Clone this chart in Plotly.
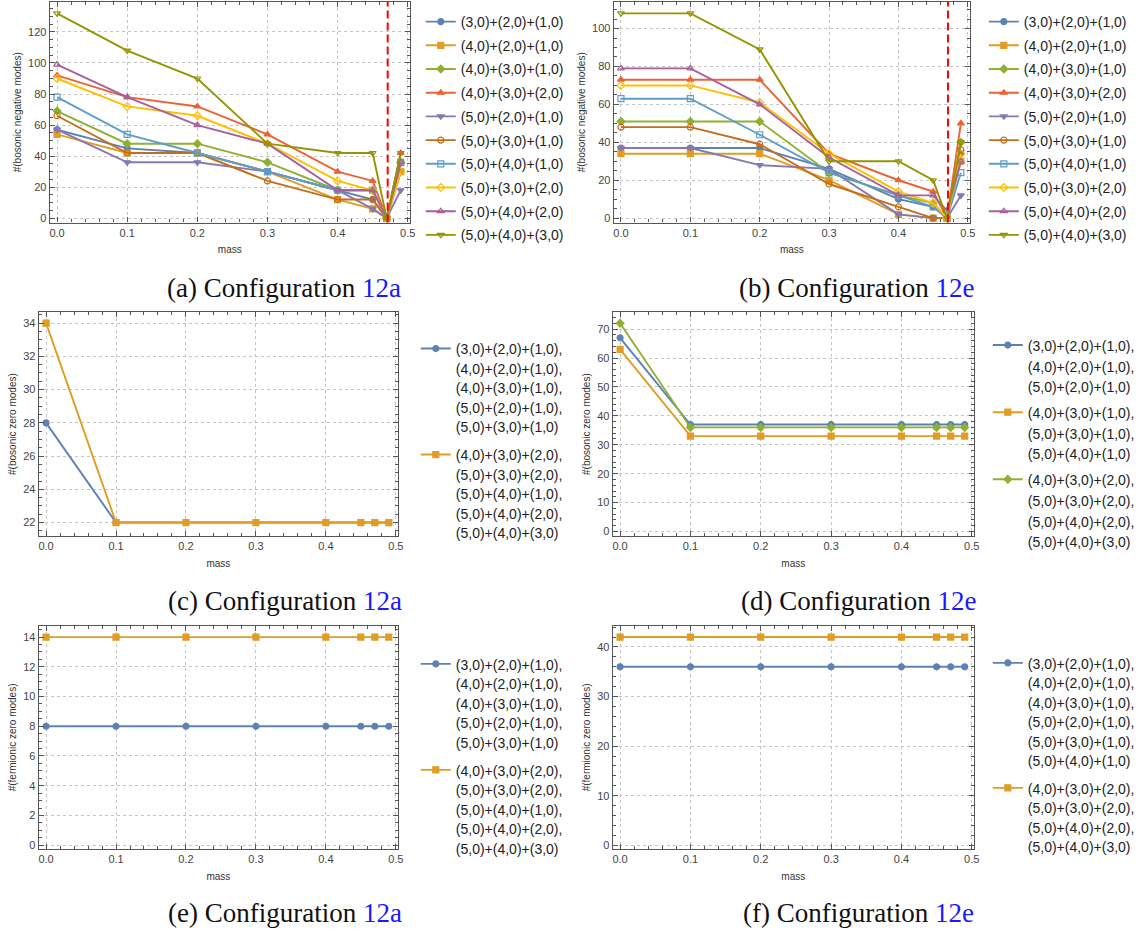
import plotly.graph_objects as go

# ---------------- data ----------------
mass = [0.0, 0.1, 0.2, 0.3, 0.4, 0.45, 0.47, 0.49]
critical_mass = [0.4714]

names10 = ["(3,0)+(2,0)+(1,0)", "(4,0)+(2,0)+(1,0)", "(4,0)+(3,0)+(1,0)", "(4,0)+(3,0)+(2,0)",
           "(5,0)+(2,0)+(1,0)", "(5,0)+(3,0)+(1,0)", "(5,0)+(4,0)+(1,0)", "(5,0)+(3,0)+(2,0)",
           "(5,0)+(4,0)+(2,0)", "(5,0)+(4,0)+(3,0)"]

# (a) bosonic negative modes, configuration 12a
a_s1 = [57, 45, 42, 30, 18, 12, 0, 36]
a_s2 = [54, 42, 42, 30, 12, 6, 0, 30]
a_s3 = [69, 48, 48, 36, 18, 18, 0, 36]
a_s4 = [92, 78, 72, 54, 30, 24, 0, 42]
a_s5 = [57, 36, 36, 30, 18, 6, 0, 18]
a_s6 = [66, 42, 42, 24, 12, 12, 0, 30]
a_s7 = [78, 54, 42, 30, 18, 18, 0, 36]
a_s8 = [90, 72, 66, 48, 24, 18, 0, 30]
a_s9 = [99, 78, 60, 48, 18, 18, 0, 36]
a_s10 = [132, 108, 90, 48, 42, 42, 0, 42]

# (b) bosonic negative modes, configuration 12e
b_s1 = [37, 37, 37, 26, 10, 6, 0, 34]
b_s2 = [34, 34, 34, 20, 2, 0, 0, 30]
b_s3 = [51, 51, 51, 24, 12, 8, 0, 40]
b_s4 = [73, 73, 73, 34, 20, 14, 0, 50]
b_s5 = [37, 37, 28, 26, 2, 0, 0, 12]
b_s6 = [48, 48, 39, 18, 6, 0, 0, 36]
b_s7 = [63, 63, 44, 24, 12, 6, 0, 24]
b_s8 = [70, 70, 61, 34, 14, 8, 0, 34]
b_s9 = [79, 79, 60, 32, 12, 12, 4, 30]
b_s10 = [108, 108, 89, 30, 30, 20, 0, 40]

# (c) bosonic zero modes, 12a
c_s1 = [28, 22, 22, 22, 22, 22, 22, 22]
c_s2 = [34, 22, 22, 22, 22, 22, 22, 22]
# (d) bosonic zero modes, 12e
d_s1 = [67, 37, 37, 37, 37, 37, 37, 37]
d_s2 = [63, 33, 33, 33, 33, 33, 33, 33]
d_s3 = [72, 36, 36, 36, 36, 36, 36, 36]
# (e) fermionic zero modes, 12a
e_s1 = [8, 8, 8, 8, 8, 8, 8, 8]
e_s2 = [14, 14, 14, 14, 14, 14, 14, 14]
# (f) fermionic zero modes, 12e
f_s1 = [36, 36, 36, 36, 36, 36, 36, 36]
f_s2 = [42, 42, 42, 42, 42, 42, 42, 42]

lines_ce = [["(3,0)+(2,0)+(1,0),", "(4,0)+(2,0)+(1,0),", "(4,0)+(3,0)+(1,0),", "(5,0)+(2,0)+(1,0),", "(5,0)+(3,0)+(1,0)"],
            ["(4,0)+(3,0)+(2,0),", "(5,0)+(3,0)+(2,0),", "(5,0)+(4,0)+(1,0),", "(5,0)+(4,0)+(2,0),", "(5,0)+(4,0)+(3,0)"]]
lines_d = [["(3,0)+(2,0)+(1,0),", "(4,0)+(2,0)+(1,0),", "(5,0)+(2,0)+(1,0)"],
           ["(4,0)+(3,0)+(1,0),", "(5,0)+(3,0)+(1,0),", "(5,0)+(4,0)+(1,0)"],
           ["(4,0)+(3,0)+(2,0),", "(5,0)+(3,0)+(2,0),", "(5,0)+(4,0)+(2,0),", "(5,0)+(4,0)+(3,0)"]]
lines_f = [["(3,0)+(2,0)+(1,0),", "(4,0)+(2,0)+(1,0),", "(4,0)+(3,0)+(1,0),", "(5,0)+(2,0)+(1,0),",
            "(5,0)+(3,0)+(1,0),", "(5,0)+(4,0)+(1,0)"],
           ["(4,0)+(3,0)+(2,0),", "(5,0)+(3,0)+(2,0),", "(5,0)+(4,0)+(2,0),", "(5,0)+(4,0)+(3,0)"]]

captions = [("(a)", "12a"), ("(b)", "12e"), ("(c)", "12a"), ("(d)", "12e"), ("(e)", "12a"), ("(f)", "12e")]

# ---------------- style ----------------
colors = ["#5E81B5", "#E19C24", "#8FB032", "#EB6235", "#8778B3",
          "#C56E1A", "#5D9EC7", "#FFBF00", "#A5609D", "#929600"]
symbols = ["circle", "square", "diamond", "triangle-up", "triangle-down",
           "circle-open", "square-open", "diamond-open", "triangle-up-open", "triangle-down-open"]

W, H = 1145, 933
def px_x(p):
    return p / W
def px_y(p):
    return 1 - p / H

def multiline(lines, size=14):
    return "<br>".join("<span style='font-size:%dpx'>%s</span>" % (size, t) for t in lines)

panels = [
    ("", (50, 412), (2, 223), [-2.8, 139.3], 20, 5, "#(bosonic negative modes)"),
    ("2", (617, 975), (2, 223), [-2.3, 114], 20, 5, "#(bosonic negative modes)"),
    ("3", (39, 400), (313, 537), [21.2, 34.65], 2, 0.5, "#(bosonic zero modes)"),
    ("4", (616, 979), (313, 537), [-1.5, 75.8], 10, 2, "#(bosonic zero modes)"),
    ("5", (39, 400), (627, 851), [-0.27, 14.77], 2, 0.5, "#(fermionic zero modes)"),
    ("6", (616, 979), (627, 851), [-0.8, 44.3], 10, 2, "#(fermionic zero modes)"),
]

fig = go.Figure()

def add(series, names, key, legend, group_prefix="g"):
    for i, (vals, nm) in enumerate(zip(series, names)):
        c = colors[i]
        fig.add_trace(go.Scatter(
            x=mass, y=vals, name=nm, mode="lines+markers",
            xaxis="x" + key, yaxis="y" + key, legend=legend,
            legendgroup=group_prefix + str(i),
            line=dict(color=c, width=1.9),
            marker=dict(symbol=symbols[i], size=6, color=c, line=dict(color=c, width=1.2)),
            hoverinfo="skip"))

add([a_s1, a_s2, a_s3, a_s4, a_s5, a_s6, a_s7, a_s8, a_s9, a_s10], names10, "", "legend", "a")
add([b_s1, b_s2, b_s3, b_s4, b_s5, b_s6, b_s7, b_s8, b_s9, b_s10], names10, "2", "legend2", "b")
add([c_s1, c_s2], [multiline(l) for l in lines_ce], "3", "legend3", "c")
add([d_s1, d_s2, d_s3], [multiline(l) for l in lines_d], "4", "legend4", "d")
add([e_s1, e_s2], [multiline(l) for l in lines_ce], "5", "legend5", "e")
add([f_s1, f_s2], [multiline(l) for l in lines_f], "6", "legend6", "f")

frame_col = "#555555"
tick_font = dict(family="Liberation Sans, Arial", size=11, color="#444444")
title_font = dict(family="Liberation Sans, Arial", size=10, color="#333333")

layout = dict(width=W, height=H, autosize=False, margin=dict(l=0, r=0, t=0, b=0),
              paper_bgcolor="white", plot_bgcolor="white", shapes=[], annotations=[])

for key, (x0, x1), (yt, yb), yr, ytk, ymn, ytitle in panels:
    layout["xaxis" + key] = dict(
        domain=[px_x(x0), px_x(x1)], range=[-0.0104, 0.503], anchor="y" + key,
        tickmode="linear", tick0=0, dtick=0.1, tickformat=".1f",
        ticks="inside", ticklen=5, tickcolor=frame_col, tickwidth=1,
        minor=dict(ticks="inside", ticklen=3, tickcolor=frame_col, dtick=0.02, tick0=0, showgrid=False),
        showline=True, linecolor=frame_col, linewidth=1.2, mirror="allticks",
        showgrid=True, gridcolor="#c4c4c4", griddash="dot", gridwidth=1,
        zeroline=False, tickfont=tick_font,
        title=dict(text="mass", font=title_font, standoff=8))
    layout["yaxis" + key] = dict(
        domain=[px_y(yb), px_y(yt)], range=yr, anchor="x" + key,
        tickmode="linear", tick0=0, dtick=ytk,
        ticks="inside", ticklen=5, tickcolor=frame_col, tickwidth=1,
        minor=dict(ticks="inside", ticklen=3, tickcolor=frame_col, dtick=ymn, tick0=0, showgrid=False),
        showline=True, linecolor=frame_col, linewidth=1.2, mirror="allticks",
        showgrid=True, gridcolor="#c4c4c4", griddash="dot", gridwidth=1,
        zeroline=False, tickfont=tick_font,
        title=dict(text=ytitle, font=title_font, standoff=4))

# red dashed critical line in panels (a) and (b)
for key in ["", "2"]:
    for xc in critical_mass:
        layout["shapes"].append(dict(type="line", xref="x" + key, yref="y" + key + " domain",
                                     x0=xc, x1=xc, y0=0, y1=1, layer="above",
                                     line=dict(color="#ff0000", width=2, dash="8px,4px")))

# legend: key, left px, top px, font size (sets line spacing), group gap
legend_pos = [("legend", 423, 6, 14, 2.5), ("legend2", 989, 6, 14, 2.5),
              ("legend3", 418, 333, 15, 5.5), ("legend4", 993, 329, 15.8, 2.5),
              ("legend5", 418, 649, 15, 5.5), ("legend6", 993, 648, 15, 5)]
for lk, lx, ly, fs, gap in legend_pos:
    layout[lk] = dict(x=px_x(lx), y=px_y(ly), xanchor="left", yanchor="top",
                      font=dict(family="Liberation Sans, Arial", size=fs, color="#222222"),
                      bgcolor="rgba(0,0,0,0)", tracegroupgap=gap,
                      valign="top", itemclick=False)

cap_pos = [(285, 289), (861, 289), (287, 602), (863, 602), (287, 915), (863, 915)]
for (lab, ref), (cx, cy) in zip(captions, cap_pos):
    layout["annotations"].append(dict(
        xref="paper", yref="paper", x=px_x(cx), y=px_y(cy), xanchor="center", yanchor="middle",
        showarrow=False,
        text=lab + " Configuration <span style='color:#1a1aff'>" + ref + "</span>",
        font=dict(family="Liberation Serif, Times New Roman, serif", size=27, color="#111111")))

fig.update_layout(**layout)
fig.write_html("out.html")
